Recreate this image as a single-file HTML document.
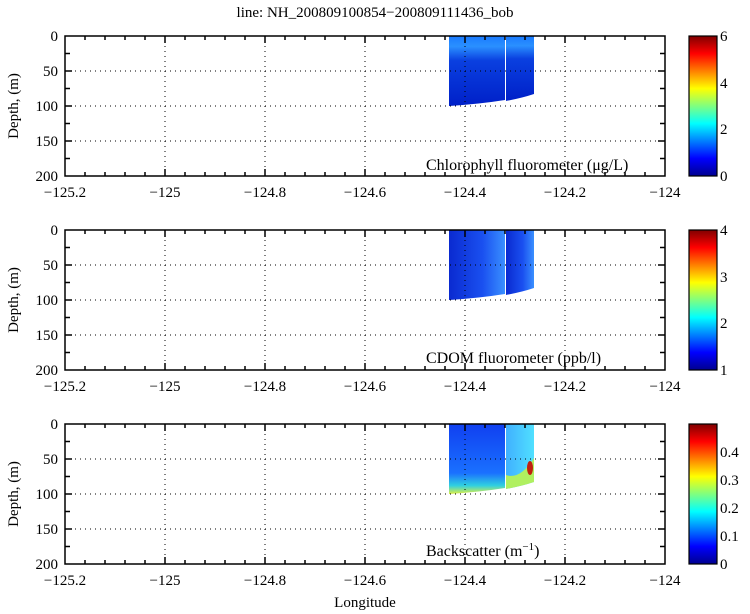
<!DOCTYPE html>
<html><head><meta charset="utf-8"><style>body{margin:0;background:#fff}svg{display:block}text{font-family:"Liberation Serif",serif;fill:#000}</style></head>
<body>
<svg width="750" height="614" xmlns="http://www.w3.org/2000/svg">
<defs>
<linearGradient id="jet" x1="0" y1="1" x2="0" y2="0">
<stop offset="0" stop-color="#00008f"/><stop offset="0.125" stop-color="#0000ff"/><stop offset="0.375" stop-color="#00ffff"/><stop offset="0.625" stop-color="#ffff00"/><stop offset="0.875" stop-color="#ff0000"/><stop offset="1" stop-color="#800000"/></linearGradient>
<linearGradient id="chl" x1="0" y1="0" x2="0" y2="1"><stop offset="0" stop-color="#1a7aff"/><stop offset="0.15" stop-color="#2a90ff"/><stop offset="0.35" stop-color="#0a40e0"/><stop offset="1" stop-color="#0020c8"/></linearGradient>
<linearGradient id="cdom" x1="0" y1="0" x2="1" y2="0"><stop offset="0" stop-color="#0a2ad0"/><stop offset="0.6" stop-color="#1a50f0"/><stop offset="1" stop-color="#3a90ff"/></linearGradient>
<linearGradient id="bs" x1="0" y1="0" x2="0" y2="1"><stop offset="0" stop-color="#1040f0"/><stop offset="0.7" stop-color="#1a70ff"/><stop offset="0.88" stop-color="#30d0e0"/><stop offset="1" stop-color="#e0f040"/></linearGradient>
<linearGradient id="bs2" x1="0" y1="0" x2="1" y2="0"><stop offset="0" stop-color="#40b0ff"/><stop offset="1" stop-color="#50e0ff"/></linearGradient>
</defs>
<text x="375" y="17" font-size="15" text-anchor="middle">line: NH_200809100854−200809111436_bob</text>

<g>
<path d="M449,36 H505 V100 Q480,104 449,106 Z" fill="url(#chl)"/>
<path d="M506,36 H534 V94 Q522,98 506,101 Z" fill="url(#chl)"/>
</g>
<g>
<path d="M449,230 H505 V294 Q480,298 449,300 Z" fill="url(#cdom)"/>
<path d="M506,230 H534 V288 Q522,292 506,295 Z" fill="url(#cdom)"/>
</g>
<g>
<path d="M449,424 H505 V488 Q480,492 449,494 Z" fill="url(#bs)"/>
<path d="M506,424 H534 V482 Q522,486 506,489 Z" fill="url(#bs2)"/>
<path d="M506,475 Q520,480 534,458 V482 Q522,486 506,489 Z" fill="#b0f060"/>
<ellipse cx="530" cy="468" rx="3" ry="7" fill="#c02010"/>
</g>

<g stroke="#000" stroke-width="1" stroke-dasharray="1,4" fill="none">
<path d="M165,36V176M265,36V176M365,36V176M465,36V176M565,36V176M65,71H665M65,106H665M65,141H665"/>
<path d="M165,230V370M265,230V370M365,230V370M465,230V370M565,230V370M65,265H665M65,300H665M65,335H665"/>
<path d="M165,424V564M265,424V564M365,424V564M465,424V564M565,424V564M65,459H665M65,494H665M65,529H665"/>
</g>

<g id="ax" stroke="#000" stroke-width="1.5" fill="none">
<rect x="65" y="36" width="600" height="140"/>
<path d="M85,36v4M105,36v4M125,36v4M145,36v4M165,36v7M185,36v4M205,36v4M225,36v4M245,36v4M265,36v7M285,36v4M305,36v4M325,36v4M345,36v4M365,36v7M385,36v4M405,36v4M425,36v4M445,36v4M465,36v7M485,36v4M505,36v4M525,36v4M545,36v4M565,36v7M585,36v4M605,36v4M625,36v4M645,36v4
M85,176v-4M105,176v-4M125,176v-4M145,176v-4M165,176v-7M185,176v-4M205,176v-4M225,176v-4M245,176v-4M265,176v-7M285,176v-4M305,176v-4M325,176v-4M345,176v-4M365,176v-7M385,176v-4M405,176v-4M425,176v-4M445,176v-4M465,176v-7M485,176v-4M505,176v-4M525,176v-4M545,176v-4M565,176v-7M585,176v-4M605,176v-4M625,176v-4M645,176v-4
M665,53.5h-5M665,71h-7M665,88.5h-5M665,106h-7M665,123.5h-5M665,141h-7M665,158.5h-5
M65,53.5h5M65,71h7M65,88.5h5M65,106h7M65,123.5h5M65,141h7M65,158.5h5"/>
</g>
<use href="#ax" y="194"/>
<use href="#ax" y="388"/>

<g font-size="15" text-anchor="middle">
<text x="65" y="197">−125.2</text><text x="165" y="197">−125</text><text x="265" y="197">−124.8</text><text x="365" y="197">−124.6</text><text x="465" y="197">−124.4</text><text x="565" y="197">−124.2</text><text x="665" y="197">−124</text>
<text x="65" y="391">−125.2</text><text x="165" y="391">−125</text><text x="265" y="391">−124.8</text><text x="365" y="391">−124.6</text><text x="465" y="391">−124.4</text><text x="565" y="391">−124.2</text><text x="665" y="391">−124</text>
<text x="65" y="585">−125.2</text><text x="165" y="585">−125</text><text x="265" y="585">−124.8</text><text x="365" y="585">−124.6</text><text x="465" y="585">−124.4</text><text x="565" y="585">−124.2</text><text x="665" y="585">−124</text>
</g>
<g font-size="15" text-anchor="end">
<text x="58" y="41">0</text><text x="58" y="76">50</text><text x="58" y="111">100</text><text x="58" y="146">150</text><text x="58" y="181">200</text>
<text x="58" y="235">0</text><text x="58" y="270">50</text><text x="58" y="305">100</text><text x="58" y="340">150</text><text x="58" y="375">200</text>
<text x="58" y="429">0</text><text x="58" y="464">50</text><text x="58" y="499">100</text><text x="58" y="534">150</text><text x="58" y="569">200</text>
</g>
<g font-size="15" text-anchor="middle">
<text transform="translate(18,106) rotate(-90)">Depth, (m)</text>
<text transform="translate(18,300) rotate(-90)">Depth, (m)</text>
<text transform="translate(18,494) rotate(-90)">Depth, (m)</text>
<text x="365" y="607">Longitude</text>
</g>
<g font-size="16">
<text x="426" y="170">Chlorophyll fluorometer (μg/L)</text>
<text x="426" y="363">CDOM fluorometer (ppb/l)</text>
<text x="426" y="556">Backscatter (m<tspan dy="-6" font-size="11">−1</tspan><tspan dy="6">)</tspan></text>
</g>

<g stroke="#000" stroke-width="1.2">
<rect x="689" y="36" width="28" height="140" fill="url(#jet)"/>
<rect x="689" y="230" width="28" height="140" fill="url(#jet)"/>
<rect x="689" y="424" width="28" height="140" fill="url(#jet)"/>
</g>
<g font-size="15">
<text x="720" y="41">6</text><text x="720" y="88">4</text><text x="720" y="134">2</text><text x="720" y="181">0</text>
<text x="720" y="235">4</text><text x="720" y="282">3</text><text x="720" y="328">2</text><text x="720" y="375">1</text>
<text x="720" y="457">0.4</text><text x="720" y="485">0.3</text><text x="720" y="513">0.2</text><text x="720" y="541">0.1</text><text x="720" y="569">0</text>
</g>
</svg>
</body></html>
